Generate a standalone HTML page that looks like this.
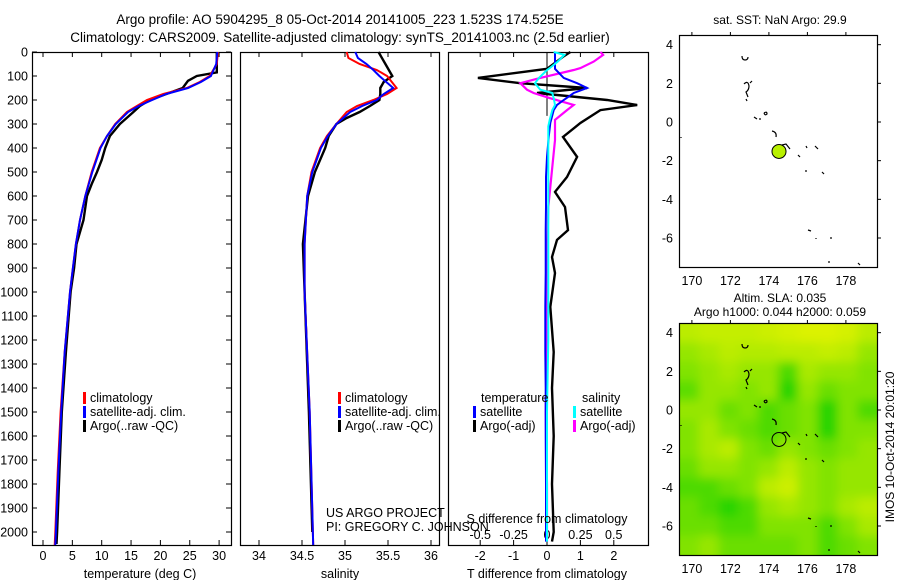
<!DOCTYPE html>
<html><head><meta charset="utf-8"><style>
body{margin:0;background:#fff}
svg{display:block;font-family:"Liberation Sans",sans-serif}
text{font-size:12.5px;fill:#000}
</style></head><body>
<svg id="c" width="900" height="580" xmlns="http://www.w3.org/2000/svg">
<text x="340" y="24" text-anchor="middle" style="font-size:13.5px">Argo profile: AO 5904295_8 05-Oct-2014 20141005_223 1.523S 174.525E</text>
<text x="340" y="42" text-anchor="middle" style="font-size:13.5px">Climatology: CARS2009. Satellite-adjusted climatology: synTS_20141003.nc (2.5d earlier)</text>
<g id="g"></g>
</svg>
<script>
// ---- data ----
const depthTicks=[0,100,200,300,400,500,600,700,800,900,1000,1100,1200,1300,1400,1500,1600,1700,1800,1900,2000];
const tempTicks=[0,5,10,15,20,25,30];
const salTicks=[34,34.5,35,35.5,36];
const tdTicks=[-2,-1,0,1,2];
const sdTicks=[-0.5,-0.25,0,0.25,0.5];
const sdTickLabels=["-0.5","-0.25","0","0.25","0.5"];
const argoTDepth=[0,85,100,120,150,175,200,225,250,300,350,400,450,500,550,600,700,800,900,1000,1250,1500,1750,2000,2050];
const argoTemp=[29.6,29.6,26.2,24.7,23.8,21,18.2,16.5,15.4,13.1,11.4,10.6,10,9.2,8.3,7.5,6.9,5.7,5.3,4.7,3.9,3.2,2.8,2.4,2.3];
const climDepth=[0,50,100,125,150,175,200,225,250,300,350,400,500,600,700,800,900,1000,1250,1500,1750,2000,2054];
const climTemp=[29.8,29.6,28.4,26.7,24.5,20.5,17.7,16,14.3,12.3,10.9,9.7,8.3,7.2,6.3,5.6,5.1,4.6,3.7,3.0,2.5,2.1,2.0];
const satTemp=[29.7,29.5,28.6,26.9,24.7,21,18.6,16.3,14.5,12.4,10.9,9.8,8.4,7.2,6.3,5.6,5.1,4.6,3.7,3.1,2.6,2.2,2.1];
const argoSDepth=[0,50,100,125,150,175,200,225,250,275,300,350,400,500,600,800,1000,1500,2000];
const argoSal=[35.39,35.47,35.55,35.45,35.41,35.41,35.40,35.29,35.17,35.02,34.90,34.81,34.77,34.65,34.57,34.51,34.53,34.58,34.62];
const climSDepth=[0,25,50,75,100,150,175,200,225,250,300,350,400,500,600,800,1000,1500,2054];
const climSal=[35.02,35.04,35.17,35.37,35.49,35.60,35.49,35.33,35.14,35.02,34.90,34.79,34.71,34.61,34.56,34.53,34.53,34.59,34.63];
const satSal=[35.12,35.15,35.25,35.33,35.40,35.56,35.45,35.37,35.20,35.06,34.90,34.80,34.72,34.62,34.56,34.53,34.53,34.59,34.63];
const tdDepth=[0,20,70,108,130,150,171,200,221,242,296,354,437,521,583,646,742,783,854,921,1062,1250,1400,1600,1800,2000,2040];
const argoTdiff=[0.7,0.48,0,-2.07,-0.8,1.2,-0.3,1.8,2.7,1.6,1.0,0.48,0.9,0.6,0.24,0.54,0.63,0.3,0.15,0.24,0.1,0.2,0.15,0.2,0.15,0.2,0.15];
const satTdiff=[0.24,0.24,0.24,0.5,0.9,1.2,0.8,0.5,0.3,0.2,0.1,0.05,0,-0.03,-0.03,-0.03,-0.04,-0.04,-0.04,-0.04,-0.05,-0.05,-0.04,-0.04,-0.03,-0.03,-0.03];
const sdDepth=[0,12,40,67,75,108,130,157,171,192,221,242,283,310,367,479,646,900,1200,1500,1800,2040];
const argoSdiff=[0.4,0.42,0.35,0.25,0.2,-0.05,-0.2,-0.15,-0.1,0.02,0.2,0.15,0.06,0.06,0.06,0.04,0.01,0,0,-0.01,0,0];
const satSdiff=[0.05,0.13,0.08,0.02,0.0,-0.06,-0.09,-0.05,0.04,0.05,0.06,0.04,0.02,0.01,0.01,0.01,0.01,0.01,0.01,0.0,0.0,0.0];
const slaGrid=[
[0.8,0.85,0.85,0.85,0.9,0.95,1,1,0.95,0.8],
[0.6,0.7,0.8,0.75,0.75,0.8,0.8,0.85,0.8,0.6],
[0.5,0.6,0.7,0.6,0.6,0.3,0.7,0.6,0.6,0.5],
[0.35,0.6,0.6,0.5,0.6,0.2,0.6,0.4,0.5,0.5],
[0.6,0.6,0.4,0.5,0.3,0.4,0.5,0.2,0.5,0.3],
[0.5,0.7,0.5,0.4,0.3,0.4,0.5,0.2,0.5,0.5],
[0.5,0.7,0.8,0.5,0.4,0.6,0.5,0.4,0.5,0.6],
[0.4,0.6,0.6,0.5,0.6,0.8,0.6,0.5,0.6,0.6],
[0.3,0.3,0.4,0.5,0.8,0.9,0.6,0.5,0.6,0.6],
[0.4,0.3,0.2,0.3,0.6,0.7,0.6,0.5,0.7,0.8],
[0.4,0.4,0.3,0.3,0.5,0.5,0.5,0.3,0.5,0.7],
[0.5,0.6,0.4,0.4,0.4,0.4,0.5,0.3,0.4,0.5]];
const lonTicks=[170,172,174,176,178];
const latTicks=[4,2,0,-2,-4,-6];
const argoLon=174.525, argoLat=-1.523;
// ---- helpers ----
const NS="http://www.w3.org/2000/svg";
const G=document.getElementById('g');
function mk(tag,at,parent){const e=document.createElementNS(NS,tag);for(const k in at)e.setAttribute(k,at[k]);(parent||G).appendChild(e);return e;}
function txt(x,y,s,anchor,size){const e=mk('text',{x:x,y:y,'text-anchor':anchor||'start'});if(size)e.style.fontSize=size+'px';e.textContent=s;return e;}
const yD=d=>52+d*0.24;
const xT=t=>43+t*5.87;
const xS=s=>259+(s-34)*86;
const xTd=t=>547+t*33.4;
const xSd=s=>547+s*133.5;
function line(xs,ds,fx,color,name,w){
  const p=xs.map((v,i)=>(i?'L':'M')+fx(v).toFixed(1)+','+yD(ds[i]).toFixed(1)).join('');
  const e=mk('path',{d:p,fill:'none',stroke:color,'stroke-width':w||2});
  
  
}
function frame(x0,x1,name){
  const r=mk('rect',{x:x0+.5,y:52.5,width:x1-x0,height:493,fill:'none',stroke:'#000','stroke-width':1.2});
  
  
}
function xticks(vals,fx,labels,ly,name,top,bottom){
  vals.forEach((v,i)=>{const x=fx(v);
    if(top)mk('line',{x1:x,x2:x,y1:52,y2:57,stroke:'#000'});
    if(bottom)mk('line',{x1:x,x2:x,y1:540,y2:545,stroke:'#000'});
    if(labels){const t=txt(x,ly,labels[i],'middle');
      
      }
  });
}
// panel 1
frame(32,231,'temperature-panel');
depthTicks.forEach(d=>{const y=yD(d);
  mk('line',{x1:32,x2:37,y1:y,y2:y,stroke:'#000'});
  mk('line',{x1:226,x2:231,y1:y,y2:y,stroke:'#000'});
  const t=txt(28,y+4.5,String(d),'end');
  
  
});
xticks(tempTicks,xT,tempTicks.map(String),560,'temperature-tick-label',true,true);
line(argoTemp,argoTDepth,xT,'#000','argo-temperature-line',2.4);
line(climTemp,climDepth,xT,'#f00','climatology-temperature-line',2);
line(satTemp,climDepth,xT,'#00f','satellite-temperature-line',2);
const tt=txt(140,578,'temperature (deg C)','middle');
// panel 2
frame(240,439,'salinity-panel');
xticks(salTicks,xS,salTicks.map(String),560,'salinity-tick-label',true,true);
line(argoSal,argoSDepth,xS,'#000','argo-salinity-line',2.4);
line(climSal,climSDepth,xS,'#f00','climatology-salinity-line',2);
line(satSal,climSDepth,xS,'#00f','satellite-salinity-line',2);
const st=txt(340,578,'salinity','middle');
// legends
function leg(x,y,color,label,name){
  mk('rect',{x:x,y:y-10,width:3,height:12,fill:color});
  const t=txt(x+7,y,label);
}
[[83,'temperature'],[338,'salinity']].forEach(([x,p])=>{
  leg(x,402,'#f00','climatology',p+'-legend-climatology');
  leg(x,416,'#00f','satellite-adj. clim.',p+'-legend-satellite');
  leg(x,430,'#000','Argo(..raw -QC)',p+'-legend-argo');
});
const u1=txt(326,517,'US ARGO PROJECT');
const u2=txt(326,531,'PI: GREGORY C. JOHNSON');
// panel 3
frame(448,648,'difference-panel');
for(let d=0;d<260;d+=6)mk('line',{x1:547,x2:547,y1:yD(d),y2:yD(d)+2,stroke:'#000','stroke-width':1});
xticks(tdTicks,xTd,tdTicks.map(String),560,'t-difference-tick-label',true,true);
sdTicks.forEach((v,i)=>{const t=txt(xSd(v),539,sdTickLabels[i],'middle');});
line(argoTdiff,tdDepth,xTd,'#000','argo-t-difference-line',2.4);
line(argoSdiff,sdDepth,xSd,'#f0f','argo-s-difference-line',2.2);
line(satTdiff,tdDepth,xTd,'#00f','satellite-t-difference-line',2);
line(satSdiff,sdDepth,xSd,'#0ff','satellite-s-difference-line',2);
const lt=txt(481,402,'temperature');
const ls=txt(582,402,'salinity');
leg(473,416,'#00f','satellite','legend-t-satellite');
leg(473,430,'#000','Argo(-adj)','legend-t-argo');
leg(573,416,'#0ff','satellite','legend-s-satellite');
leg(573,430,'#f0f','Argo(-adj)','legend-s-argo');
const sdt=txt(547,523,'S difference from climatology','middle');
const tdt=txt(547,578,'T difference from climatology','middle');
// maps
const mx=lon=>679+(lon-169.33)*19.25;
const coast=[[745,56,'m-3,0 q0,4 3,4 q3,0 3,-3'],[746,84,'m-2,0 q4,-4 5,2 q0,4 -3,6 l2,5 m2,-14 l2,-2'],[746,99,'m0,0 l1,2'],[754,117,'m0,0 l3,2'],[759,119,'m0,0 l2,0'],[764,113,'m0,0 q3,-2 3,1 q-2,2 -3,-1'],[772,131,'m0,0 q5,1 4,6'],[782,145,'m0,0 l4,-1 l4,5'],[806,146,'m0,0 l1,2'],[815,146,'m0,0 l3,3'],[798,155,'m0,0 l2,2'],[806,170,'m0,0 l0,2'],[822,172,'m0,0 l2,2'],[808,230,'m0,0 l3,1'],[816,238,'m0,0 l0,1'],[830,238,'m0,0 l2,0'],[829,261,'m0,0 l0,2'],[858,263,'m0,0 l2,2'],[681,137,'m0,0 l0,1']];
function slaColor(v){
  const t=Math.max(0,Math.min(1,(v-0.15)/0.85));
  const p=Math.pow(t,0.6);
  return 'rgb('+Math.round(220*p)+','+Math.round(205+37*p)+',0)';
}
function mapFrame(top,name,fill){
  const H=232, my=lat=>top+(4.5-lat)*H/12;
  const grp=mk('g',{});
  if(fill){
    const cp=mk('clipPath',{id:'mc'},grp);mk('rect',{x:679,y:top,width:198,height:H},cp);
    const f=mk('filter',{id:'bl',filterUnits:'userSpaceOnUse',x:660,y:top-20,width:240,height:H+40},grp);mk('feGaussianBlur',{stdDeviation:5},f);
    const cg=mk('g',{'clip-path':'url(#mc)'},grp);
    const hg=mk('g',{filter:'url(#bl)'},cg);
    slaGrid.forEach((row,r)=>row.forEach((v,c)=>{
      const x0=mx(169.33+c*1.03),y0=my(4.5-r);
      const cell=mk('rect',{x:x0-(c==0?12:0),y:y0-(r==0?12:0),width:19.25*1.03+(c==0||c==9?12:0)+0.6,height:H/12+(r==0||r==11?12:0)+0.6,fill:slaColor(v)},hg);
      
      
    }));
  }
  mk('rect',{x:679.5,y:top+.5,width:198,height:H,fill:'none',stroke:'#000','stroke-width':1.2},grp);
  lonTicks.forEach(l=>{const x=mx(l);mk('line',{x1:x,x2:x,y1:top-3,y2:top,stroke:'#000'},grp);
    const t=txt(x,top+H+18,String(l),'middle');grp.appendChild(t);});
  latTicks.forEach(l=>{const y=my(l);mk('line',{x1:878,x2:881,y1:y,y2:y,stroke:'#000'},grp);
    const t=txt(673,y+4.5,String(l),'end');grp.appendChild(t);});
  const dy=top-35;
  coast.forEach(([x,y,p])=>mk('path',{d:'M'+x+','+(y+dy)+p,fill:'none',stroke:'#000','stroke-width':1.2},grp));
  const cx=mx(argoLon),cy=my(argoLat);
  const c=mk('circle',{cx:cx,cy:cy,r:7,fill:fill?'none':'#b8f000',stroke:'#000','stroke-width':1},grp);
  
  
}
mapFrame(35,'sst-map',false);
mapFrame(323,'sla-map',true);
const m1=txt(780,24,'sat. SST: NaN Argo: 29.9','middle',12);
const m2=txt(780,302,'Altim. SLA: 0.035','middle',12);
const m3=txt(780,316,'Argo h1000: 0.044 h2000: 0.059','middle',12);
const im=txt(0,0,'IMOS 10-Oct-2014 20:01:20','middle',12);im.setAttribute('transform','translate(894,447) rotate(-90)');


</script>
</body></html>
